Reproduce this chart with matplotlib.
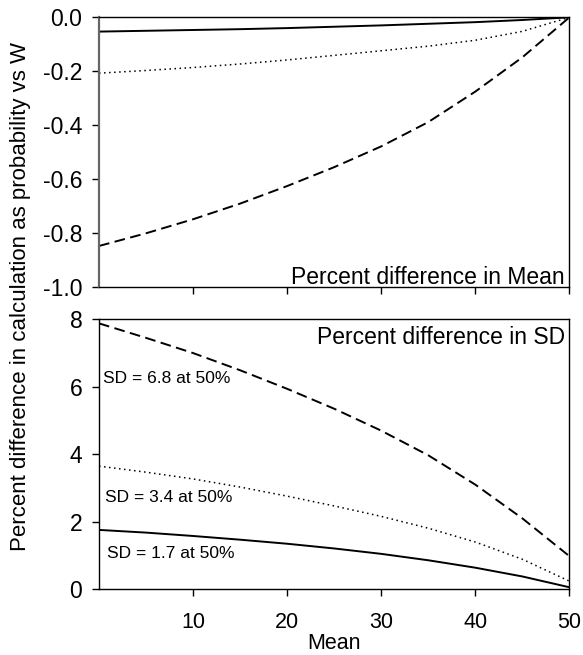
import numpy as np
import matplotlib.pyplot as plt

plt.rcParams['font.family'] = ['Liberation Sans', 'DejaVu Sans']
plt.rcParams['axes.unicode_minus'] = False

# values
mean = [0, 5, 10, 15, 20, 25, 30, 35, 40, 45, 50]

# top panel: percent difference in Mean
mean_solid = [-0.053, -0.050, -0.047, -0.044, -0.040, -0.035, -0.030, -0.024, -0.018, -0.010, 0.0]
mean_dotted = [-0.207, -0.197, -0.186, -0.173, -0.158, -0.141, -0.124, -0.107, -0.085, -0.052, 0.0]
mean_dashed = [-0.847, -0.800, -0.748, -0.690, -0.625, -0.555, -0.478, -0.388, -0.275, -0.148, 0.0]

# bottom panel: percent difference in SD
sd_solid = [1.76, 1.68, 1.58, 1.47, 1.35, 1.21, 1.05, 0.86, 0.64, 0.38, 0.06]
sd_dotted = [3.65, 3.47, 3.27, 3.03, 2.76, 2.47, 2.16, 1.81, 1.40, 0.89, 0.24]
sd_dashed = [7.88, 7.45, 7.00, 6.49, 5.94, 5.35, 4.70, 3.97, 3.10, 2.10, 0.98]

sd_labels = ['SD = 6.8 at 50%', 'SD = 3.4 at 50%', 'SD = 1.7 at 50%']

fig = plt.figure(figsize=(5.83, 6.55), dpi=100)
ax1 = fig.add_axes([0.1698, 0.5614, 0.807, 0.4122])
ax2 = fig.add_axes([0.1698, 0.1003, 0.807, 0.4122])

solid = dict(color='black', lw=1.4, ls='-')
dotted = dict(color='black', lw=1.1, ls=(0, (1, 2.3)))
dashed = dict(color='black', lw=1.4, ls=(0, (5.5, 2.8)))

ax1.plot(mean, mean_solid, **solid)
ax1.plot(mean, mean_dotted, **dotted)
ax1.plot(mean, mean_dashed, **dashed)

ax2.plot(mean, sd_solid, **solid)
ax2.plot(mean, sd_dotted, **dotted)
ax2.plot(mean, sd_dashed, **dashed)

for ax in (ax1, ax2):
    ax.set_xlim(0, 50)
    ax.set_xticks([10, 20, 30, 40, 50])
    ax.tick_params(direction='out', length=5, width=1)
    ax.tick_params(axis='y', labelsize=16.5, pad=7)
    ax.tick_params(axis='x', labelsize=15.5, pad=11)
    for s in ax.spines.values():
        s.set_linewidth(1)

ax1.set_ylim(-1.0, 0.0)
ax1.set_yticks(np.arange(-1.0, 0.01, 0.2))
ax1.set_yticklabels(['-1.0', '-0.8', '-0.6', '-0.4', '-0.2', '0.0'])
ax1.tick_params(axis='x', labelbottom=False)
ax1.spines['left'].set_color('#666666')
ax1.spines['left'].set_linewidth(1.6)

ax2.set_ylim(0, 8)
ax2.set_yticks([0, 2, 4, 6, 8])
ax2.set_xlabel('Mean', fontsize=15.5, labelpad=0)

ax1.text(0.99, 0.012, 'Percent difference in Mean', transform=ax1.transAxes,
         ha='right', va='baseline', fontsize=16.5)
ax2.text(0.99, 0.909, 'Percent difference in SD', transform=ax2.transAxes,
         ha='right', va='baseline', fontsize=16.5)

ax2.text(0.45, 6.10, sd_labels[0], fontsize=12.5, va='baseline')
ax2.text(0.65, 2.58, sd_labels[1], fontsize=12.5, va='baseline')
ax2.text(0.80, 0.92, sd_labels[2], fontsize=12.5, va='baseline')

fig.text(0.035, 0.548, 'Percent difference in calculation as probability vs W',
         rotation=90, ha='center', va='center', fontsize=16)

fig.savefig('out.png', dpi=100)
